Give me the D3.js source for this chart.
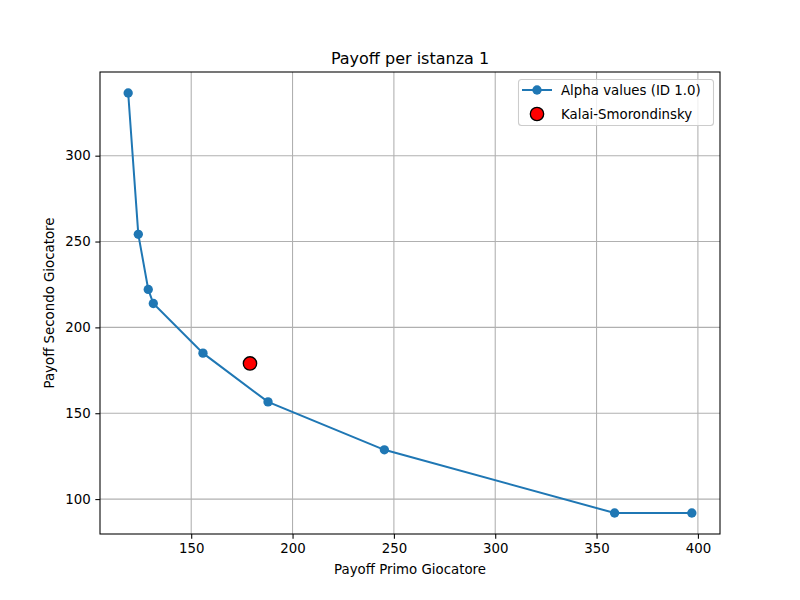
<!DOCTYPE html>
<html>
<head>
<meta charset="utf-8">
<script src="https://cdn.jsdelivr.net/npm/d3@7"></script>
<style>
body { margin: 0; background: #fff; }
svg { font-family: "DejaVu Sans", sans-serif; }
</style>
</head>
<body>
<svg width="800" height="600"></svg>
<script>
// alpha values, payoff of the two players
var primo = [118.9, 123.9, 128.8, 131.3, 155.8, 187.9, 245.3, 358.9, 397.0]
var secondo = [336.5, 254.2, 222.1, 213.9, 185.0, 156.6, 128.7, 91.9, 91.9]
var kalaiX = [179.0]
var kalaiY = [179.0]
var xTicks = [150, 200, 250, 300, 350, 400]
var yTicks = [100, 150, 200, 250, 300]

var blue = '#1f77b4'
var svg = d3.select('svg')
var pl = 100, pr = 720, pt = 72, pb = 534

function padded(v) {
  var lo = d3.min(v), hi = d3.max(v), m = (hi - lo) * 0.05
  return [lo - m, hi + m]
}
var allX = primo.concat(kalaiX), allY = secondo.concat(kalaiY)
var x = d3.scaleLinear().domain(padded(allX)).range([pl, pr])
var y = d3.scaleLinear().domain(padded(allY)).range([pb, pt])

// grid
svg.append('g').selectAll('line').data(xTicks).enter().append('line')
  .attr('x1', x).attr('x2', x).attr('y1', pt).attr('y2', pb)
  .attr('stroke', '#b0b0b0').attr('stroke-width', 1.07)
svg.append('g').selectAll('line').data(yTicks).enter().append('line')
  .attr('y1', y).attr('y2', y).attr('x1', pl).attr('x2', pr)
  .attr('stroke', '#b0b0b0').attr('stroke-width', 1.07)

// axes
var xAxis = svg.append('g').attr('transform', 'translate(0,' + pb + ')')
  .call(d3.axisBottom(x).tickValues(xTicks).tickSize(4.67).tickPadding(4.67))
var yAxis = svg.append('g').attr('transform', 'translate(' + pl + ',0)')
  .call(d3.axisLeft(y).tickValues(yTicks).tickSize(4.67).tickPadding(4.67))
;[xAxis, yAxis].forEach(function (g) {
  g.select('.domain').remove()
  g.selectAll('line').attr('stroke', '#000').attr('stroke-width', 1.07)
  g.selectAll('text').attr('font-size', 13.33).attr('fill', '#000')
    .attr('font-family', '"DejaVu Sans", sans-serif')
})

// the line and points
var pts = primo.map(function (d, i) { return [d, secondo[i]] })
svg.append('path').datum(pts)
  .attr('d', d3.line().x(function (d) { return x(d[0]) }).y(function (d) { return y(d[1]) }))
  .attr('fill', 'none').attr('stroke', blue).attr('stroke-width', 2)
svg.append('g').selectAll('circle').data(pts).enter().append('circle')
  .attr('cx', function (d) { return x(d[0]) })
  .attr('cy', function (d) { return y(d[1]) })
  .attr('r', 4.67).attr('fill', blue)

svg.append('g').selectAll('circle').data(kalaiX).enter().append('circle')
  .attr('cx', function (d) { return x(d) })
  .attr('cy', function (d, i) { return y(kalaiY[i]) })
  .attr('r', 6.67).attr('fill', 'red').attr('stroke', '#000').attr('stroke-width', 1.33)

// frame
svg.append('rect').attr('x', pl).attr('y', pt)
  .attr('width', pr - pl).attr('height', pb - pt)
  .attr('fill', 'none').attr('stroke', '#000').attr('stroke-width', 1.07)

// labels
svg.append('text').attr('x', (pl + pr) / 2).attr('y', 64)
  .attr('text-anchor', 'middle').attr('font-size', 16).text('Payoff per istanza 1')
svg.append('text').attr('x', (pl + pr) / 2).attr('y', 574)
  .attr('text-anchor', 'middle').attr('font-size', 13.33).text('Payoff Primo Giocatore')
svg.append('text').attr('transform', 'translate(54,' + (pt + pb) / 2 + ') rotate(-90)')
  .attr('text-anchor', 'middle').attr('font-size', 13.33).text('Payoff Secondo Giocatore')

// legend
var lg = svg.append('g')
lg.append('rect').attr('x', 518.5).attr('y', 79.5).attr('width', 195).attr('height', 46)
  .attr('rx', 3).attr('fill', 'rgba(255,255,255,0.8)').attr('stroke', '#cccccc').attr('stroke-width', 1.07)
lg.append('line').attr('x1', 522).attr('x2', 552).attr('y1', 90).attr('y2', 90)
  .attr('stroke', blue).attr('stroke-width', 2)
lg.append('circle').attr('cx', 537).attr('cy', 90).attr('r', 4.67).attr('fill', blue)
lg.append('circle').attr('cx', 537).attr('cy', 114).attr('r', 6.67)
  .attr('fill', 'red').attr('stroke', '#000').attr('stroke-width', 1.33)
lg.append('text').attr('x', 561).attr('y', 94.5).attr('font-size', 13.33).text('Alpha values (ID 1.0)')
lg.append('text').attr('x', 561).attr('y', 118.5).attr('font-size', 13.33).text('Kalai-Smorondinsky')
</script>
</body>
</html>
